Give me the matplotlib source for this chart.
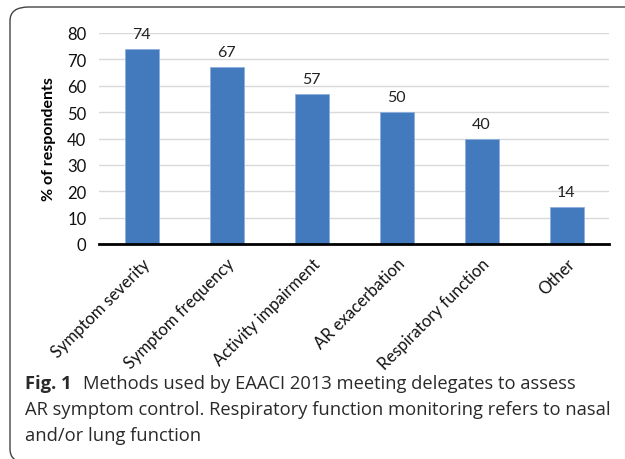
import matplotlib
matplotlib.use("Agg")
import matplotlib.pyplot as plt
from matplotlib.patches import FancyBboxPatch

categories = ["Symptom severity", "Symptom frequency", "Activity impairment",
              "AR exacerbation", "Respiratory function", "Other"]
values = [74, 67, 57, 50, 40, 14]
yticks = [0, 10, 20, 30, 40, 50, 60, 70, 80]

fig = plt.figure(figsize=(6.25, 4.6), dpi=100)
ax = fig.add_axes([99/625, 1-245/460, 510/625, 211/460])

x = list(range(len(categories)))
ax.bar(x, values, width=0.4, color="#427ABD", edgecolor="#8DB0DD", linewidth=0.6, zorder=3)
for xi, v in zip(x, values):
    ax.text(xi, v + 3.0, str(v), ha="center", va="bottom", fontsize=11.5,
            family="Lato", color="#222222")

ax.set_xlim(-0.5, len(categories) - 0.5)
ax.set_ylim(0, 80)
ax.set_yticks(yticks)
ax.set_yticklabels([str(t) for t in yticks], fontsize=12, family="Lato", color="#111111")
ax.set_xticks(x)
ax.set_xticklabels(categories, rotation=45, ha="right", rotation_mode="anchor",
                   fontsize=12, family="Lato", color="#111111")
ax.tick_params(axis="both", length=0)
ax.tick_params(axis="y", pad=9)
ax.tick_params(axis="x", pad=8)
ax.yaxis.grid(True, color="#D9D9D9", linewidth=1.0, zorder=0)
ax.set_axisbelow(True)
for s in ["top", "right", "left"]:
    ax.spines[s].set_visible(False)
ax.spines["bottom"].set_linewidth(2.0)
ax.spines["bottom"].set_color("black")
ax.spines["bottom"].set_zorder(4)
ax.set_ylabel("% of respondents", fontsize=11.5, fontweight="bold", family="Lato", labelpad=8)

# Frame
frame = FancyBboxPatch((10/625, -4/460), 640/625, 456/460,
                       boxstyle="round,pad=0,rounding_size=0.03",
                       transform=fig.transFigure, fill=False,
                       edgecolor="#444444", linewidth=1.0)
fig.patches.append(frame)

# Caption
cap_font = "Open Sans"
fs = 13
cap_color = "#2a2a2a"
t_fig = fig.text(25/625, 1-384/460, "Fig. 1", fontsize=fs, fontweight="bold", family=cap_font,
                 va="center", ha="left", color=cap_color)
t1 = fig.text(87/625, 1-384/460, "Methods used by EAACI 2013 meeting delegates to assess",
              fontsize=fs, family=cap_font, va="center", ha="left", color=cap_color)
t2 = fig.text(25/625, 1-410/460, "AR symptom control. Respiratory function monitoring refers to nasal",
              fontsize=fs, family=cap_font, va="center", ha="left", color=cap_color)
t3 = fig.text(25/625, 1-436/460, "and/or lung function",
              fontsize=fs, family=cap_font, va="center", ha="left", color=cap_color)

# fit caption width to the reference layout (line 2 spans ~585 px)
fig.canvas.draw()
r = fig.canvas.get_renderer()
w = t2.get_window_extent(r).width
new_fs = fs * 585.0 / w
for t in (t_fig, t1, t2, t3):
    t.set_fontsize(new_fs)
fig.canvas.draw()
wf = t_fig.get_window_extent(r)
t1.set_x((wf.x1 + 11) / 625)

fig.savefig("out.png", dpi=100)
